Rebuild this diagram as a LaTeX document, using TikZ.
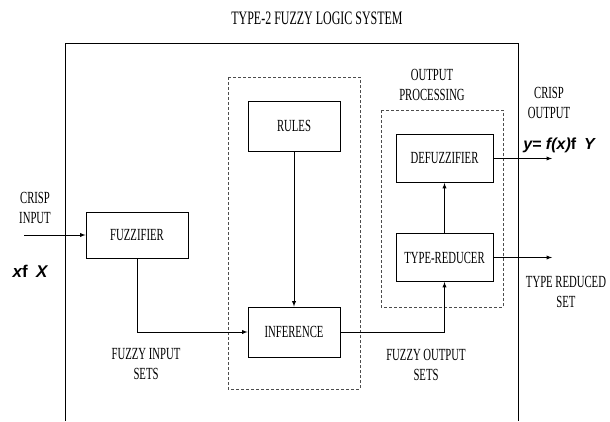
\documentclass[tikz,border=0pt]{standalone}
\usepackage{fontspec}
\setmainfont[FakeStretch=0.63]{Liberation Serif}
\newfontfamily\varfont{Liberation Sans}
\newcommand{\fvar}[1]{{\varfont\bfseries\itshape #1}}
\newcommand{\fsym}[1]{{\varfont\bfseries #1}}

\begin{document}
\begin{tikzpicture}[x=1pt, y=-1pt, font=\fontsize{17}{20}\selectfont]
		\tikzstyle{block} = [draw, line width=0.9pt, rectangle, minimum height=48pt, minimum width=97pt, inner sep=0pt]
		\tikzstyle{group} = [draw, densely dashed, line width=0.6pt, gray!60!black]
		\tikzstyle{txt} = [align=center, inner sep=0pt]
		\tikzstyle{flow} = [draw, line width=0.9pt, -latex]

		\useasboundingbox (0,0) rectangle (610,421);
		\node[txt, font=\fontsize{19}{22}\selectfont] (title) at (317,18) {TYPE-2 FUZZY LOGIC SYSTEM};

		% system frame, runs off the bottom edge
		\draw[line width=0.9pt] (65,421) |- (518,43) -- (518,421);

		% inference engine and output processing groups
		\draw[group] (228,77) rectangle (360,389);
		\draw[group] (381,110) rectangle (503,307);
		\node[txt] (outproc) at (432,85) {OUTPUT\\PROCESSING};

		\node[block, minimum width=102pt, minimum height=46pt] (fuzz) at (137,235) {FUZZIFIER};
		\node[block, minimum width=92pt, minimum height=50pt] (rules) at (294,126) {RULES};
		\node[block, minimum width=92pt, minimum height=50pt] (infer) [below of=rules, node distance=206pt] {INFERENCE};
		\node[block] (defuzz) at (444.5,158.5) {DEFUZZIFIER};
		\node[block] (treduce) [below of=defuzz, node distance=99pt] {TYPE-REDUCER};

		\coordinate (cin) at (24,235);
		\coordinate (yout) at (552,158.5);
		\coordinate (tout) at (552,257.5);

		\draw[flow] (cin) -- (fuzz);
		\draw[flow] (fuzz.south) |- (infer.west);
		\draw[flow] (rules) -- (infer);
		\draw[flow] (infer.east) -| (treduce.south);
		\draw[flow] (treduce) -- (defuzz);
		\draw[flow] (defuzz.east) -- (yout);
		\draw[flow] (treduce.east) -- (tout);

		\node[txt] (crispin) at (35,208) {CRISP\\INPUT};
		\node[txt, font=\fontsize{17}{20}\selectfont] (xin) at (30,271) {\fvar{x}\fsym{f}\,\, \fvar{X}};
		\node[txt] (fuzzin) at (146,364.5) {FUZZY INPUT\\SETS};
		\node[txt] (fuzzout) at (426,364.5) {FUZZY OUTPUT\\SETS};
		\node[txt] (crispout) at (549,103) {CRISP\\OUTPUT};
		\node[txt, font=\fontsize{16}{20}\selectfont] (yvar) at (559,145) {\fvar{y= f(x)}\fsym{f}\,\, \fvar{Y}};
		\node[txt] (tset) at (566,292) {TYPE REDUCED\\SET};
	\end{tikzpicture}
\end{document}
